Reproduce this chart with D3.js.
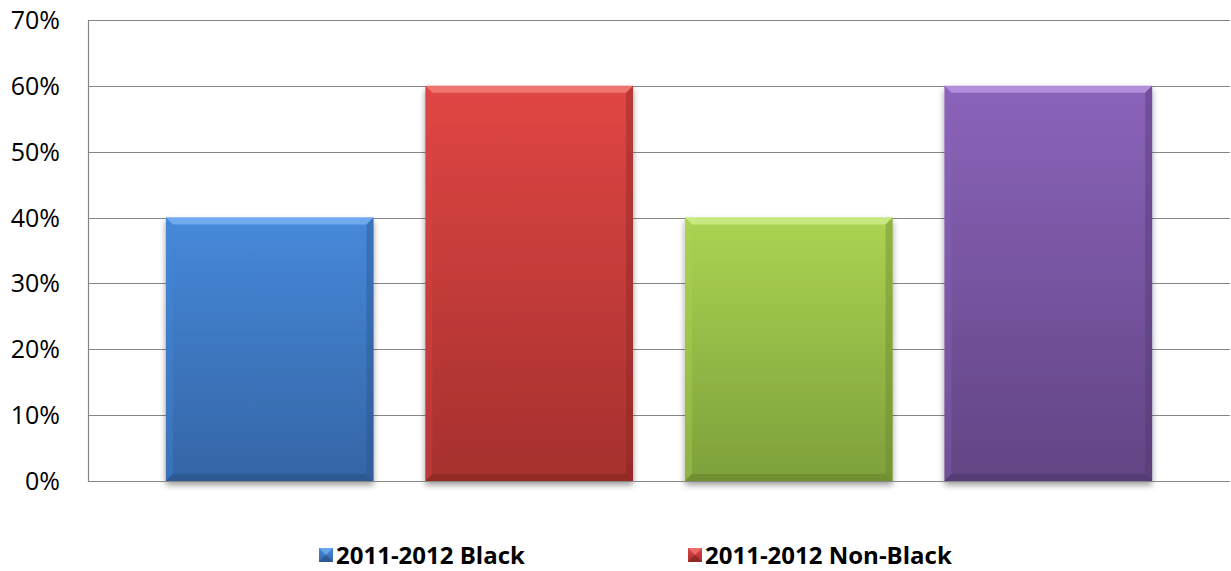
<!DOCTYPE html>
<html>
<head>
<meta charset="utf-8">
<script src="https://cdn.jsdelivr.net/npm/d3@7"></script>
<style>
  html, body { margin: 0; padding: 0; background: #fff; }
  svg { display: block; }
  text { font-family: "Open Sans", "Noto Sans", sans-serif; fill: #000; }
</style>
</head>
<body>
<div id="chart"></div>
<script>
// series in the single category
var seriesNames = ["2011-2012 Black", "2011-2012 Non-Black", "2012-2013 Black", "2012-2013 Non-Black"];
var seriesValues = [0.40, 0.60, 0.40, 0.60];
var yTicks = [0, 0.1, 0.2, 0.3, 0.4, 0.5, 0.6, 0.7];
var legendShown = ["2011-2012 Black", "2011-2012 Non-Black"];

// colour pairs: top, bottom
var colors = [
  { top: "#4689da", bottom: "#3565a6", light: "#79b3f2", dark: "#2b5287" },
  { top: "#e04644", bottom: "#a5302e", light: "#f27f7c", dark: "#862524" },
  { top: "#acd352", bottom: "#7ea03b", light: "#d0ef8c", dark: "#67842d" },
  { top: "#8b63bb", bottom: "#624584", light: "#bb9ae5", dark: "#4f376d" }
];

var W = 1231, H = 571;
var margin = { top: 20, right: 1, bottom: 90, left: 88 };

var svg = d3.select("#chart").append("svg")
    .attr("width", W)
    .attr("height", H);

var defs = svg.append("defs");

// shadow below the bars
var filt = defs.append("filter").attr("id", "shadow")
    .attr("x", "-10%").attr("y", "-10%").attr("width", "120%").attr("height", "125%");
filt.append("feGaussianBlur").attr("in", "SourceAlpha").attr("stdDeviation", 3);
filt.append("feOffset").attr("dx", 0).attr("dy", 4).attr("result", "off");
filt.append("feComponentTransfer").append("feFuncA").attr("type", "linear").attr("slope", 0.4);
var fm = filt.append("feMerge");
fm.append("feMergeNode");
fm.append("feMergeNode").attr("in", "SourceGraphic");

colors.forEach(function(c, i) {
  var g = defs.append("linearGradient").attr("id", "grad" + i)
      .attr("x1", 0).attr("x2", 0).attr("y1", 0).attr("y2", 1);
  g.append("stop").attr("offset", "0%").attr("stop-color", c.top);
  g.append("stop").attr("offset", "100%").attr("stop-color", c.bottom);
});

var x = d3.scaleBand()
    .domain(seriesNames)
    .range([margin.left, W - margin.right])
    .paddingInner(0.2)
    .paddingOuter(0.3);

var y = d3.scaleLinear()
    .domain([0, 0.7])
    .range([H - margin.bottom, margin.top]);

// gridlines
svg.append("g")
  .selectAll("line")
  .data(yTicks)
  .enter().append("line")
    .attr("x1", margin.left)
    .attr("x2", W - margin.right)
    .attr("y1", function(d) { return Math.round(y(d)) + 0.5; })
    .attr("y2", function(d) { return Math.round(y(d)) + 0.5; })
    .attr("stroke", "#868686")
    .attr("stroke-width", 1.2);

// y axis line
svg.append("line")
    .attr("x1", margin.left + 0.5).attr("x2", margin.left + 0.5)
    .attr("y1", y(0.7)).attr("y2", y(0) + 1)
    .attr("stroke", "#868686")
    .attr("stroke-width", 1.2);

// tick labels
var fmt = d3.format(".0%");
svg.append("g")
  .selectAll("text")
  .data(yTicks)
  .enter().append("text")
    .attr("x", 60)
    .attr("y", function(d) { return y(d); })
    .attr("dy", "0.36em")
    .attr("text-anchor", "end")
    .style("font-size", "25px")
    .text(function(d) { return fmt(d); });

// bars with bevel
var bev = 7;
var bars = svg.append("g")
  .selectAll("g")
  .data(seriesValues)
  .enter().append("g")
    .attr("filter", "url(#shadow)");

bars.each(function(v, i) {
  var g = d3.select(this);
  var x0 = x(seriesNames[i]), w = x.bandwidth();
  var y0 = y(v), y1 = y(0);
  var c = colors[i];
  g.append("rect")
    .attr("x", x0).attr("y", y0)
    .attr("width", w).attr("height", y1 - y0)
    .attr("fill", "url(#grad" + i + ")");
  // top bevel
  g.append("polygon")
    .attr("points", [[x0, y0], [x0 + w, y0], [x0 + w - bev, y0 + bev], [x0 + bev, y0 + bev]].join(" "))
    .attr("fill", c.light).attr("opacity", 0.8);
  // left bevel
  g.append("polygon")
    .attr("points", [[x0, y0], [x0 + bev, y0 + bev], [x0 + bev, y1 - bev], [x0, y1]].join(" "))
    .attr("fill", c.top).attr("opacity", 0.35);
  // right bevel
  g.append("polygon")
    .attr("points", [[x0 + w, y0], [x0 + w - bev, y0 + bev], [x0 + w - bev, y1 - bev], [x0 + w, y1]].join(" "))
    .attr("fill", c.dark).attr("opacity", 0.4);
  // bottom bevel
  g.append("polygon")
    .attr("points", [[x0, y1], [x0 + bev, y1 - bev], [x0 + w - bev, y1 - bev], [x0 + w, y1]].join(" "))
    .attr("fill", c.dark).attr("opacity", 0.6);
});

// x axis line
svg.append("line")
    .attr("x1", margin.left).attr("x2", W - margin.right)
    .attr("y1", Math.round(y(0)) + 0.5).attr("y2", Math.round(y(0)) + 0.5)
    .attr("stroke", "#868686")
    .attr("stroke-width", 1.2);

// legend (only the first two entries fit)
var legendX = [319, 688];
var leg = svg.append("g")
  .selectAll("g")
  .data(legendShown)
  .enter().append("g")
    .attr("transform", function(d, i) { return "translate(" + legendX[i] + ",555)"; });

leg.append("rect")
    .attr("x", 0).attr("y", -7)
    .attr("width", 14).attr("height", 14)
    .attr("fill", function(d, i) { return "url(#grad" + i + ")"; });
leg.append("polygon")
    .attr("points", "0,-7 14,-7 7,0")
    .attr("fill", function(d, i) { return colors[i].light; })
    .attr("opacity", 0.7);
leg.append("polygon")
    .attr("points", "0,7 14,7 7,0")
    .attr("fill", function(d, i) { return colors[i].dark; })
    .attr("opacity", 0.7);
leg.append("text")
    .attr("x", 17)
    .attr("y", 0)
    .attr("dy", "0.36em")
    .style("font-size", "24px")
    .style("font-weight", "bold")
    .text(function(d) { return d; });
</script>
</body>
</html>
